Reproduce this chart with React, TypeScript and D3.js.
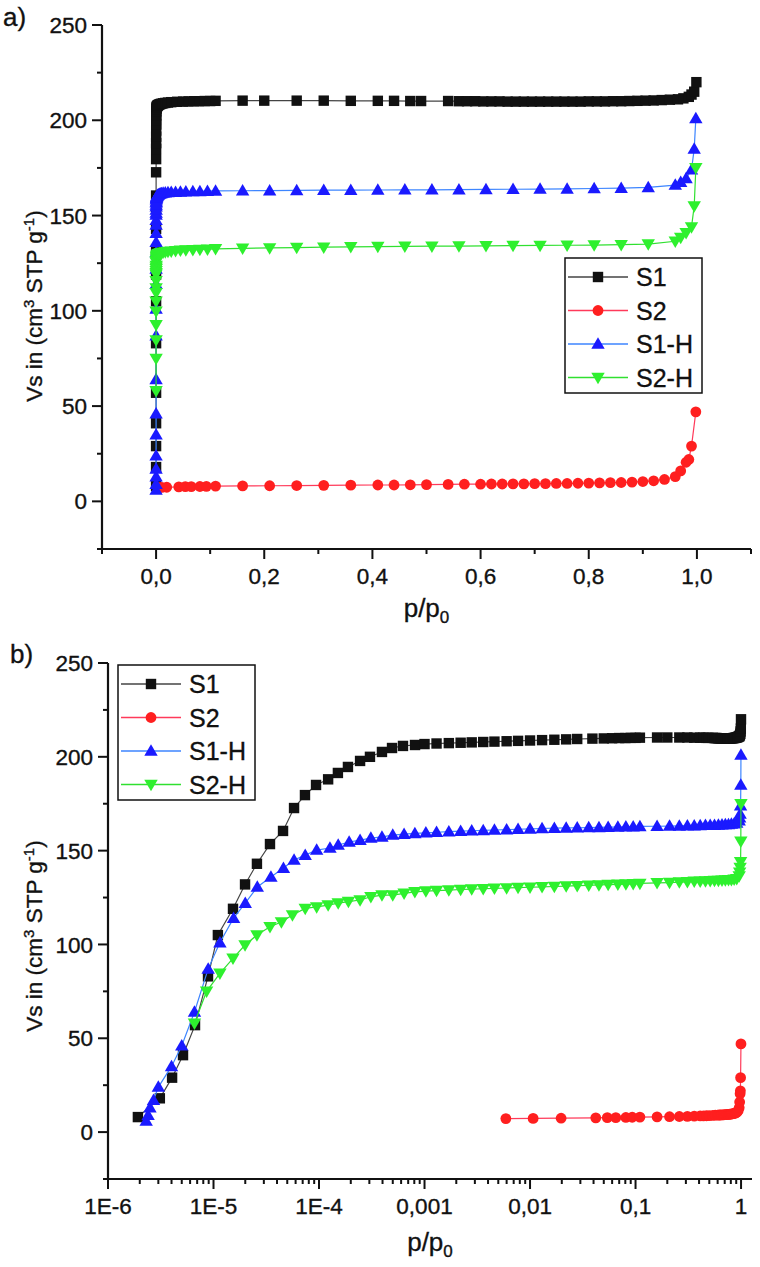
import React from 'react';
import * as d3 from 'd3';

// ---------- DATA ----------
const SERIES_NAMES = ['S1', 'S2', 'S1-H', 'S2-H'];

const S1_X = [1.92e-6, 3.1e-6, 4.05e-6, 5.14e-6, 6.68e-6, 8.87e-6, 1.1e-5, 1.53e-5, 1.99e-5, 2.58e-5, 3.43e-5, 4.56e-5, 5.8e-5, 7.36e-5, 9.37e-5, 1.22e-4, 1.51e-4, 1.88e-4, 2.45e-4, 3.04e-4, 3.95e-4, 4.92e-4, 6.25e-4, 8.13e-4, 1.0e-3, 1.3e-3, 1.7e-3, 2.2e-3, 2.8e-3, 3.6e-3, 4.6e-3, 6e-3, 7.7e-3, 0.01, 0.013, 0.017, 0.022, 0.028, 0.039, 0.05, 0.06, 0.07, 0.08, 0.09, 0.1, 0.11, 0.16, 0.2, 0.26, 0.31, 0.36, 0.41, 0.44, 0.47, 0.49, 0.54, 0.56, 0.575, 0.59, 0.605, 0.62, 0.635, 0.65, 0.665, 0.68, 0.695, 0.71, 0.725, 0.74, 0.755, 0.77, 0.785, 0.8, 0.815, 0.83, 0.845, 0.86, 0.875, 0.89, 0.905, 0.92, 0.935, 0.95, 0.965, 0.975, 0.985, 0.99, 0.995, 0.999];
const S1_Y = [8, 18, 29, 41, 57, 83, 105, 119, 132, 143, 153.5, 160.5, 172.7, 179.6, 185, 188, 191.4, 194.6, 197.8, 200, 202.6, 204.7, 205.8, 206.3, 206.8, 207.1, 207.3, 207.5, 207.7, 207.9, 208.1, 208.3, 208.5, 208.7, 208.9, 209.1, 209.3, 209.5, 209.7, 209.8, 209.9, 210, 210, 210.1, 210.1, 210.2, 210.3, 210.3, 210.3, 210.3, 210.2, 210.2, 210.2, 210.1, 210.1, 210.1, 210, 210, 210, 209.9, 209.9, 209.9, 209.8, 209.8, 209.8, 209.8, 209.8, 209.8, 209.8, 209.8, 209.8, 209.8, 209.9, 209.9, 209.9, 210, 210, 210.1, 210.2, 210.3, 210.4, 210.6, 210.8, 211, 211.5, 212.3, 213.5, 215, 220];

const S2_X = [0.0059, 0.0107, 0.0197, 0.042, 0.054, 0.065, 0.081, 0.093, 0.11, 0.16, 0.21, 0.26, 0.31, 0.36, 0.41, 0.44, 0.47, 0.5, 0.54, 0.57, 0.6, 0.62, 0.64, 0.66, 0.68, 0.7, 0.72, 0.74, 0.76, 0.78, 0.8, 0.82, 0.84, 0.86, 0.88, 0.9, 0.92, 0.94, 0.96, 0.97, 0.98, 0.985, 0.99, 0.998];
const S2_Y = [7.2, 7.3, 7.4, 7.6, 7.7, 7.7, 7.8, 7.9, 8, 8.1, 8.2, 8.3, 8.4, 8.5, 8.6, 8.6, 8.7, 8.8, 8.9, 9, 9, 9.1, 9.1, 9.2, 9.2, 9.3, 9.3, 9.4, 9.4, 9.5, 9.6, 9.7, 9.8, 9.9, 10.1, 10.4, 10.8, 11.5, 13, 16, 20.5, 22, 29, 47];

const S1H_X = [2.3e-6, 2.4e-6, 2.5e-6, 2.7e-6, 3.0e-6, 4.0e-6, 5.0e-6, 6.6e-6, 8.9e-6, 1.15e-5, 1.55e-5, 2.0e-5, 2.6e-5, 3.5e-5, 4.6e-5, 5.8e-5, 7.4e-5, 9.5e-5, 1.27e-4, 1.52e-4, 1.93e-4, 2.45e-4, 3.1e-4, 3.95e-4, 5.0e-4, 6.4e-4, 8.1e-4, 1.03e-3, 1.3e-3, 1.7e-3, 2.2e-3, 2.8e-3, 3.6e-3, 4.6e-3, 6e-3, 7.7e-3, 0.01, 0.013, 0.017, 0.022, 0.028, 0.036, 0.045, 0.055, 0.068, 0.081, 0.095, 0.11, 0.16, 0.21, 0.26, 0.31, 0.36, 0.41, 0.46, 0.51, 0.56, 0.61, 0.66, 0.71, 0.76, 0.81, 0.86, 0.91, 0.96, 0.97, 0.98, 0.99, 0.995, 0.998];
const S1H_Y = [6, 9, 13, 17, 24, 35, 46, 64, 87, 101, 114, 122, 130.6, 136, 140.7, 145, 147.6, 150.3, 151.4, 153, 154.6, 155.6, 156.7, 157.3, 158.3, 158.8, 159.2, 159.5, 159.8, 160.1, 160.4, 160.6, 160.8, 161, 161.2, 161.4, 161.6, 161.8, 162, 162.1, 162.2, 162.3, 162.4, 162.5, 162.6, 162.7, 162.8, 162.9, 163, 163.1, 163.2, 163.3, 163.3, 163.4, 163.5, 163.5, 163.6, 163.7, 163.8, 163.9, 164, 164.2, 164.4, 164.8, 166, 167.5, 169.5, 174, 185, 201];

const S2H_X = [6.6e-6, 8.6e-6, 1.15e-5, 1.53e-5, 1.99e-5, 2.58e-5, 3.43e-5, 4.4e-5, 5.6e-5, 7.4e-5, 9.5e-5, 1.22e-4, 1.52e-4, 1.9e-4, 2.45e-4, 3.1e-4, 3.95e-4, 5e-4, 6.4e-4, 8.1e-4, 1.03e-3, 1.3e-3, 1.7e-3, 2.2e-3, 2.8e-3, 3.6e-3, 4.6e-3, 6e-3, 7.7e-3, 0.01, 0.013, 0.017, 0.022, 0.028, 0.036, 0.045, 0.055, 0.068, 0.081, 0.095, 0.11, 0.16, 0.21, 0.26, 0.31, 0.36, 0.41, 0.46, 0.51, 0.56, 0.61, 0.66, 0.71, 0.76, 0.81, 0.86, 0.91, 0.96, 0.97, 0.98, 0.99, 0.995, 0.998];
const S2H_Y = [58, 75, 84.6, 92.6, 99.7, 105, 109.4, 112, 115.7, 119.2, 120, 121, 122, 122.8, 123.7, 125.4, 126.3, 126.3, 127.2, 128, 128.4, 128.7, 129, 129.3, 129.5, 129.7, 129.9, 130.1, 130.3, 130.5, 130.7, 130.9, 131.1, 131.3, 131.5, 131.7, 131.9, 132, 132.2, 132.3, 132.5, 132.8, 133, 133.2, 133.4, 133.6, 133.7, 133.8, 133.9, 134, 134.1, 134.2, 134.3, 134.4, 134.5, 134.7, 135, 136.5, 138.5, 141, 144, 155, 175];

const Y_TICKS = [0, 50, 100, 150, 200, 250];
const Y_TICK_LABELS = ['0', '50', '100', '150', '200', '250'];
const LIN_X_TICKS = [0, 0.2, 0.4, 0.6, 0.8, 1.0];
const LIN_X_TICK_LABELS = ['0,0', '0,2', '0,4', '0,6', '0,8', '1,0'];
const LOG_X_TICKS = [1e-6, 1e-5, 1e-4, 1e-3, 1e-2, 1e-1, 1];
const LOG_X_TICK_LABELS = ['1E-6', '1E-5', '1E-4', '0,001', '0,01', '0,1', '1'];

// ---------- STYLE ----------
const FONT = '"Liberation Sans", Arial, Helvetica, sans-serif';
const SERIES = [
  { name: SERIES_NAMES[0], xs: S1_X, ys: S1_Y, shape: 'square', fill: '#111111', line: '#444444' },
  { name: SERIES_NAMES[1], xs: S2_X, ys: S2_Y, shape: 'circle', fill: '#ff1f1f', line: '#ff3a5a' },
  { name: SERIES_NAMES[2], xs: S1H_X, ys: S1H_Y, shape: 'up', fill: '#1a1aff', line: '#3d85ff' },
  { name: SERIES_NAMES[3], xs: S2H_X, ys: S2H_Y, shape: 'down', fill: '#2ef02e', line: '#30e030' },
];

function Marker({ shape, cx, cy, fill }: { shape: string; cx: number; cy: number; fill: string }) {
  if (shape === 'square') return <rect x={cx - 5.2} y={cy - 5.2} width={10.4} height={10.4} fill={fill} />;
  if (shape === 'circle') return <circle cx={cx} cy={cy} r={5.4} fill={fill} />;
  if (shape === 'up')
    return <path d={`M${cx},${cy - 6.7}L${cx + 6.7},${cy + 4.8}L${cx - 6.7},${cy + 4.8}Z`} fill={fill} />;
  return <path d={`M${cx},${cy + 6.7}L${cx + 6.7},${cy - 4.8}L${cx - 6.7},${cy - 4.8}Z`} fill={fill} />;
}

const TXT = { fontFamily: FONT, fill: '#111', stroke: '#111', strokeWidth: 0.35 };

function YTitle({ x, y }: { x: number; y: number }) {
  return (
    <text transform={`translate(${x},${y}) rotate(-90)`} textAnchor="middle" fontSize={22.5} {...TXT}>
      Vs in (cm<tspan dy={-8} fontSize={15}>3</tspan>
      <tspan dy={8}> STP g</tspan>
      <tspan dy={-8} fontSize={15}>-1</tspan>
      <tspan dy={8}>)</tspan>
    </text>
  );
}

function XTitle({ x, y }: { x: number; y: number }) {
  return (
    <text x={x} y={y} textAnchor="middle" fontSize={26} {...TXT}>
      p/p<tspan dy={6} fontSize={17}>0</tspan>
    </text>
  );
}

function Legend({ left, top }: { left: number; top: number }) {
  const w = 137, h = 135, step = 33.5;
  return (
    <g>
      <rect x={left} y={top} width={w} height={h} fill="white" stroke="#111" strokeWidth={1.5} />
      {SERIES.map((s, i) => {
        const cy = top + 19 + i * step;
        return (
          <g key={s.name}>
            <line x1={left + 3} x2={left + 63} y1={cy} y2={cy} stroke={s.line} strokeWidth={1.3} />
            <Marker shape={s.shape} cx={left + 33} cy={cy} fill={s.fill} />
            <text x={left + 71} y={cy} dy="0.36em" fontSize={25} {...TXT}>{s.name}</text>
          </g>
        );
      })}
    </g>
  );
}

function Panel({ kind, x0, x1, yTop, yBot, legendPos, letter, letterPos, xTitleY, yTitleY }: any) {
  const isLog = kind === 'log';
  const xScale: any = isLog
    ? d3.scaleLog().domain([1e-6, 1.27]).range([x0, x1])
    : d3.scaleLinear().domain([-0.1, 1.1]).range([x0, x1]);
  const yScale = d3.scaleLinear().domain([-25, 250]).range([yBot, yTop]);
  const xTicks = isLog ? LOG_X_TICKS : LIN_X_TICKS;
  const xLabels = isLog ? LOG_X_TICK_LABELS : LIN_X_TICK_LABELS;
  const xMinor: number[] = [];
  if (isLog) {
    for (let d = -6; d <= 0; d++) for (let k = 2; k <= 9; k++) { const v = k * Math.pow(10, d); if (v <= 1.27) xMinor.push(v); }
  } else {
    for (let v = -0.1; v <= 1.11; v += 0.2) xMinor.push(v);
  }
  const yMinor = [-25, 25, 75, 125, 175, 225];
  return (
    <g>
      {SERIES.map((s) => {
        const pts: [number, number][] = s.xs.map((xv, i) => [xScale(xv), yScale(s.ys[i])]);
        const path = d3.line()(pts) || '';
        return (
          <g key={s.name}>
            <path d={path} fill="none" stroke={s.line} strokeWidth={1.2} />
            {pts.map((p, i) => <Marker key={i} shape={s.shape} cx={p[0]} cy={p[1]} fill={s.fill} />)}
          </g>
        );
      })}
      {/* axes */}
      <line x1={x0} x2={x0} y1={yTop} y2={yBot + 1} stroke="#111" strokeWidth={2.2} />
      <line x1={x0 - 1} x2={x1} y1={yBot} y2={yBot} stroke="#111" strokeWidth={2.2} />
      {Y_TICKS.map((t, i) => (
        <g key={'y' + t}>
          <line x1={x0 - 10} x2={x0} y1={yScale(t)} y2={yScale(t)} stroke="#111" strokeWidth={2} />
          <text x={x0 - 15} y={yScale(t)} dy="0.36em" textAnchor="end" fontSize={22.5} {...TXT}>{Y_TICK_LABELS[i]}</text>
        </g>
      ))}
      {yMinor.map((t) => <line key={'ym' + t} x1={x0 - 5} x2={x0} y1={yScale(t)} y2={yScale(t)} stroke="#111" strokeWidth={2} />)}
      {xTicks.map((t, i) => (
        <g key={'x' + t}>
          <line x1={xScale(t)} x2={xScale(t)} y1={yBot} y2={yBot + 10} stroke="#111" strokeWidth={2} />
          <text x={xScale(t)} y={yBot + 35} textAnchor="middle" fontSize={22.5} {...TXT}>{xLabels[i]}</text>
        </g>
      ))}
      {xMinor.map((t, i) => <line key={'xm' + i} x1={xScale(t)} x2={xScale(t)} y1={yBot} y2={yBot + 5} stroke="#111" strokeWidth={2} />)}
      <YTitle x={42} y={yTitleY} />
      <XTitle x={(x0 + x1) / 2} y={xTitleY} />
      <Legend left={legendPos[0]} top={legendPos[1]} />
      <text x={letterPos[0]} y={letterPos[1]} fontSize={26} {...TXT}>{letter}</text>
    </g>
  );
}

export default function App() {
  return (
    <svg width={760} height={1267} style={{ position: 'absolute', left: 0, top: 0, background: 'white' }}>
      <rect width={760} height={1267} fill="white" />
      <Panel kind="lin" x0={102} x1={751} yTop={25} yBot={549} legendPos={[565, 258]} letter="a)" letterPos={[3, 26]} xTitleY={617} yTitleY={306} />
      <Panel kind="log" x0={108} x1={752} yTop={663} yBot={1179} legendPos={[118, 665]} letter="b)" letterPos={[10, 663]} xTitleY={1251} yTitleY={936} />
    </svg>
  );
}
